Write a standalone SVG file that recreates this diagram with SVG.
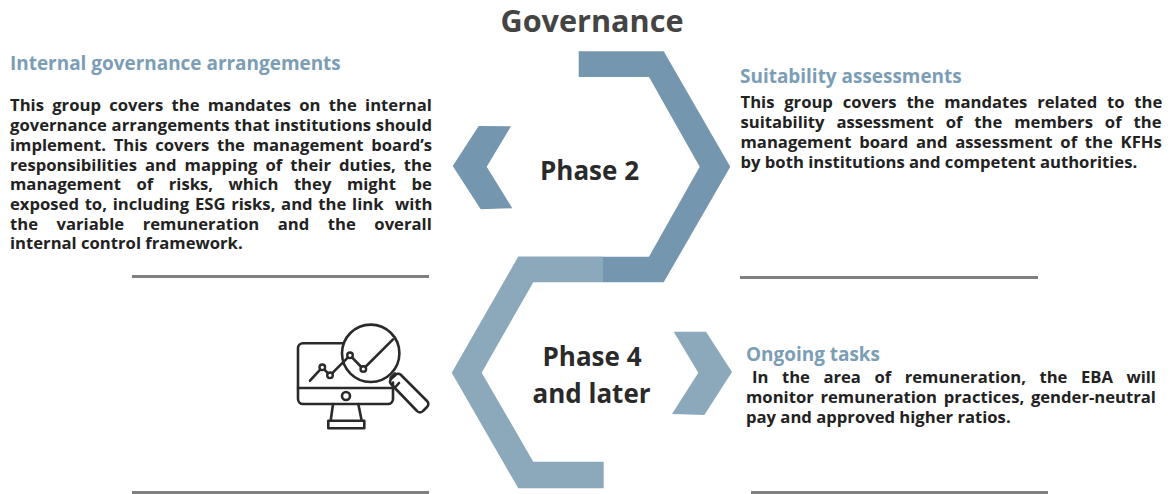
<svg xmlns="http://www.w3.org/2000/svg" width="1174" height="494" viewBox="0 0 1174 494">
<style>
text{font-family:"Open Sans","Noto Sans","Liberation Sans",sans-serif;font-weight:700;white-space:pre}
.b{font-size:16.65px;fill:#222}
.h{font-size:18.95px;fill:#7b9db5}
.p{font-size:26px;fill:#2a2a2a;text-anchor:middle}
.d{fill:#7497af}
.l{fill:#8ca9bc}
.r{fill:#808080}
.i{fill:none;stroke:#2a2a2a;stroke-width:2.6;stroke-linejoin:round;stroke-linecap:round}
.w{fill:#fff;stroke:#2a2a2a;stroke-width:2.4}
</style>
<rect width="1174" height="494" fill="#fff"/>
<text id="title" x="592" y="31.5" text-anchor="middle" font-size="30.6" fill="#444">Governance</text>
<g id="shapes">
<polygon class="d" points="578.7,51.3 663.7,51.3 730.3,166.7 663.7,282.3 603,282.3 603,256.7 649,256.7 699.7,166.7 649,77 578.7,77"/>
<polygon class="l" points="518.3,256.5 603,256.5 603,282.3 533.3,282.3 481.7,372.7 533.3,461.7 603.7,461.7 603.7,488.3 518.3,488.3 451.7,372.7"/>
<polygon class="d" points="478.7,126 511,126.3 486.7,166.7 512.3,208.3 480.7,209.3 452.7,166"/>
<polygon class="l" points="673.7,331.7 706,331.7 732,372 704.3,415 672,414 698.3,372.7"/>
</g>
<g id="phase2"><text class="p" x="589.5" y="180">Phase 2</text></g>
<g id="phase4"><text class="p" x="592" y="366">Phase 4</text><text class="p" x="591.5" y="403">and later</text></g>
<g id="internal">
<text class="h" x="10" y="69.5">Internal governance arrangements</text>
<text class="b" x="10" y="111" word-spacing="3.96">This group covers the mandates on the internal</text>
<text class="b" x="10" y="131" word-spacing="0.43">governance arrangements that institutions should</text>
<text class="b" x="10" y="151" word-spacing="3.38">implement. This covers the management board’s</text>
<text class="b" x="10" y="171" word-spacing="3.75">responsibilities and mapping of their duties, the</text>
<text class="b" x="10" y="190" word-spacing="11.23">management of risks, which they might be</text>
<text class="b" x="10" y="210" word-spacing="1.4">exposed to, including ESG risks, and the link  with</text>
<text class="b" x="10" y="230" word-spacing="14.2">the variable remuneration and the overall</text>
<text class="b" x="10" y="249">internal control framework.</text>
<rect class="r" x="132" y="275" width="297" height="3"/>
</g>
<g id="suitability">
<text class="h" x="740" y="82.5">Suitability assessments</text>
<text class="b" x="740.5" y="108" word-spacing="5.43">This group covers the mandates related to the</text>
<text class="b" x="740.5" y="128" word-spacing="7.6">suitability assessment of the members of the</text>
<text class="b" x="740.5" y="148" word-spacing="3.45">management board and assessment of the KFHs</text>
<text class="b" x="740.5" y="168">by both institutions and competent authorities.</text>
<rect class="r" x="740" y="276" width="298" height="3"/>
</g>
<g id="ongoing">
<text class="h" x="746" y="360.5">Ongoing tasks</text>
<text class="b" x="752" y="383" word-spacing="9.17">In the area of remuneration, the EBA will</text>
<text class="b" x="746" y="403" word-spacing="2.4">monitor remuneration practices, gender-neutral</text>
<text class="b" x="746" y="423">pay and approved higher ratios.</text>
<rect class="r" x="751" y="491" width="297" height="3"/>
</g>
<g id="rule-bottom-left"><rect class="r" x="132" y="491" width="297" height="3"/></g>
<g id="icon">
<path class="i" d="M344,343.3H303a5,5 0 0 0 -5,5V399a5,5 0 0 0 5,5H388a5,5 0 0 0 5,-5V382.5"/>
<path class="i" d="M298,388H392"/>
<circle class="i" cx="346" cy="396" r="4"/>
<path class="i" d="M333,404L330.7,420.7M358.3,404L361.7,420.7"/>
<rect class="i" x="328.3" y="420.7" width="36" height="7.6"/>
<circle class="i" cx="370.7" cy="353.3" r="28.7"/>
<path class="i" d="M310,380.7L322.3,367.3L330,375.3L350,355.3L363.3,369L393,339.3"/>
<circle class="w" cx="322.3" cy="367.3" r="2.8"/><circle class="w" cx="330" cy="375.3" r="2.8"/><circle class="w" cx="350" cy="355.3" r="2.8"/><circle class="w" cx="363.3" cy="369" r="2.8"/>
<path class="i" d="M390.5,378L395,373.5M395.5,387L399,383"/>
<path class="i" d="M395,375.5a4,4 0 0 1 5.5,-1L427,401a4,4 0 0 1 0,6L423,411a4,4 0 0 1 -6,0L391,384a4,4 0 0 1 0,-5Z"/>
</g>
</svg>
